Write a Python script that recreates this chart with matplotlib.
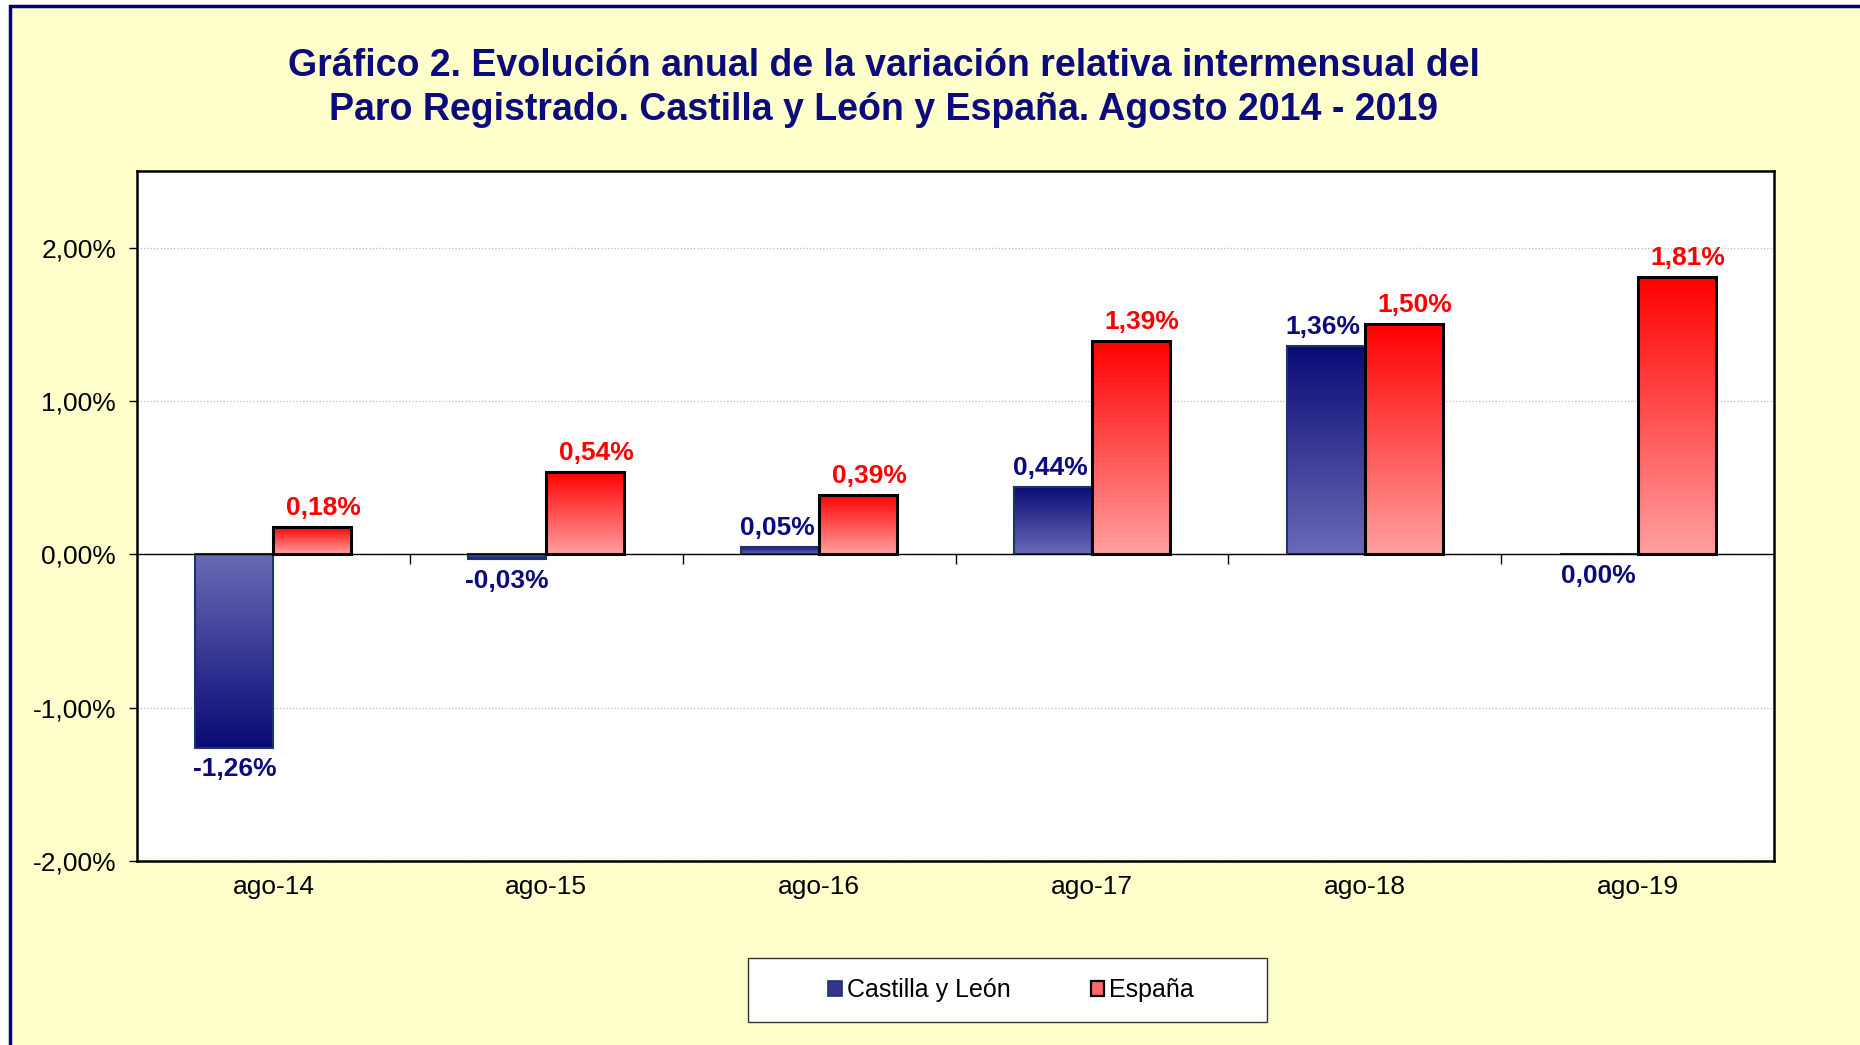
import numpy as np
import matplotlib
matplotlib.use("Agg")
import matplotlib.pyplot as plt
from matplotlib.colors import LinearSegmentedColormap
from matplotlib.patches import Patch, Rectangle
from matplotlib.ticker import FuncFormatter
from matplotlib.markers import TICKDOWN

plt.rcParams['font.family'] = ['Liberation Sans', 'DejaVu Sans']

# data
categories = ['ago-14', 'ago-15', 'ago-16', 'ago-17', 'ago-18', 'ago-19']
castilla_leon = [-1.26, -0.03, 0.05, 0.44, 1.36, 0.00]
espana = [0.18, 0.54, 0.39, 1.39, 1.50, 1.81]
series_names = ['Castilla y León', 'España']
y_ticks = [-2, -1, 0, 1, 2]

navy = '#0b0b7d'
red = '#ff0000'
blue_cmap = LinearSegmentedColormap.from_list('cyl', ['#6a6ab6', '#0a0a76'])
red_cmap = LinearSegmentedColormap.from_list('esp', ['#ffa0a0', '#ff0000'])


def pct(v):
    return '{:.2f}%'.format(v).replace('.', ',')


def gradient_bars(ax, bars, cmap):
    grad = np.linspace(0, 1, 256).reshape(-1, 1)
    for b in bars:
        h = b.get_height()
        if h == 0:
            continue
        x0 = b.get_x()
        y0 = b.get_y()
        im = ax.imshow(grad, cmap=cmap, origin='lower', aspect='auto',
                       extent=(x0, x0 + b.get_width(), y0, y0 + h),
                       zorder=2.5, interpolation='bilinear')
        im.set_clip_path(b)


fig = plt.figure(figsize=(18.6, 10.45), dpi=100, facecolor='white')

# yellow panel with navy frame
fig.patches.append(Rectangle((10 / 1860, -0.1), 1.2, 1.1 - 6 / 1045,
                             transform=fig.transFigure, facecolor='#ffffcc',
                             edgecolor='#000080', lw=2.5, zorder=-2))

ax = fig.add_axes([137 / 1860, 1 - 861 / 1045, 1637 / 1860, 690 / 1045])
ax.set_facecolor('white')

x = np.arange(len(categories))
w = 1 / 3.5

b1 = ax.bar(x - w, castilla_leon, w, align='edge', facecolor='none',
            edgecolor='#1d3566', lw=1.5, zorder=3)
b2 = ax.bar(x, espana, w, align='edge', facecolor='none',
            edgecolor='black', lw=2.2, zorder=3)
gradient_bars(ax, b1, blue_cmap)
gradient_bars(ax, b2, red_cmap)

# data labels
for xi, v in zip(x, castilla_leon):
    if v > 0:
        ax.annotate(pct(v), (xi - w / 2, v), xytext=(-2, 5), textcoords='offset points',
                    ha='center', va='bottom', fontsize=19, fontweight='bold', color=navy)
    else:
        ax.annotate(pct(v), (xi - w / 2, v), xytext=(0, -7), textcoords='offset points',
                    ha='center', va='top', fontsize=19, fontweight='bold', color=navy)
for xi, v in zip(x, espana):
    ax.annotate(pct(v), (xi + w / 2, v), xytext=(8, 5), textcoords='offset points',
                ha='center', va='bottom', fontsize=19, fontweight='bold', color=red)

# zero line with category separators
ax.axhline(0, color='black', lw=1, zorder=4)
ax.plot(x[:-1] + 0.5, np.zeros(len(x) - 1), ls='none', marker=TICKDOWN,
        ms=7, mew=1, color='black', zorder=4)

ax.set_xlim(-0.5, len(categories) - 0.5)
ax.set_ylim(-2, 2.5)
ax.set_yticks(y_ticks)
ax.yaxis.set_major_formatter(FuncFormatter(lambda v, p: pct(v)))
ax.set_xticks(x)
ax.set_xticklabels(categories)
ax.tick_params(axis='x', length=0, pad=10, labelsize=19)
ax.tick_params(axis='y', length=6, width=1, pad=9, labelsize=19, direction='out')
ax.yaxis.grid(True, ls=':', color='#bdbdbd', lw=0.9)
ax.set_axisbelow(True)
for s in ax.spines.values():
    s.set_linewidth(1.8)
    s.set_color('black')

# title
fig.text(0.475, 1 - 88 / 1045,
         'Gráfico 2. Evolución anual de la variación relativa intermensual del\n'
         'Paro Registrado. Castilla y León y España. Agosto 2014 - 2019',
         ha='center', va='center', fontsize=27, fontweight='bold', color=navy,
         linespacing=1.25)

# legend
fig.patches.append(Rectangle((748 / 1860, 1 - 1022 / 1045), 519 / 1860, 64 / 1045,
                             transform=fig.transFigure, facecolor='white',
                             edgecolor='#333333', lw=1, zorder=-1))
handles = [Patch(facecolor='#34348f', edgecolor='#1d3566', lw=1.2),
           Patch(facecolor='#ff6666', edgecolor='black', lw=1.6)]
fig.legend(handles, series_names, loc='center', ncol=2,
           bbox_to_anchor=(1011 / 1860, 1 - 990 / 1045), frameon=False,
           fontsize=18, handlelength=0.55, handleheight=0.55, handletextpad=0.2,
           columnspacing=3.2)

fig.savefig('out.png', dpi=100, facecolor=fig.get_facecolor())
